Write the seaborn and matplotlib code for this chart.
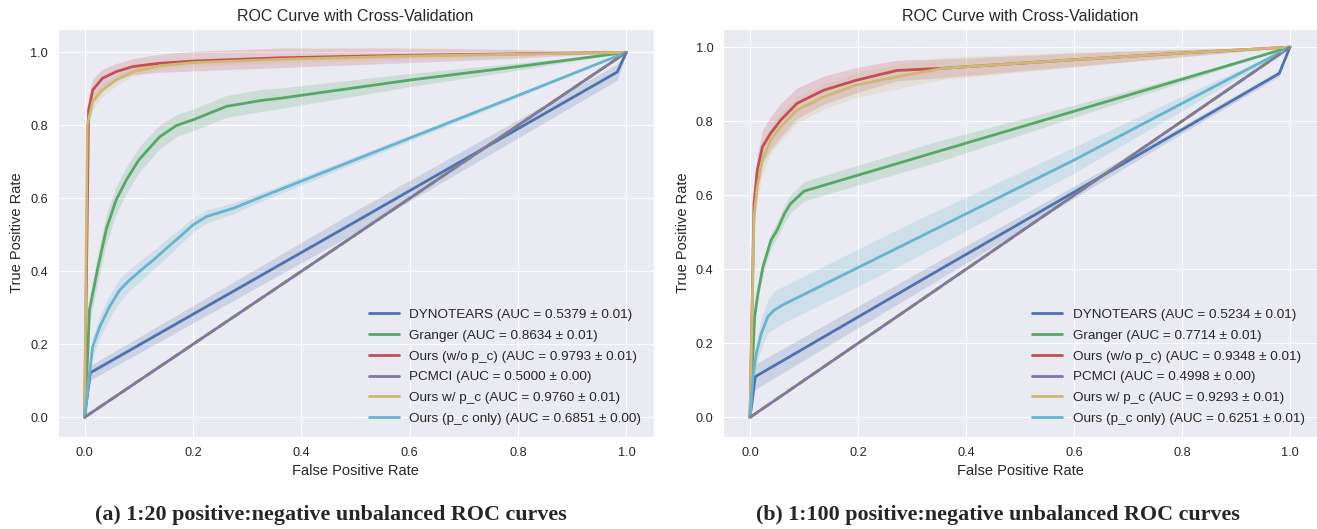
import matplotlib
matplotlib.use("Agg")
import matplotlib.pyplot as plt
import seaborn as sns
import numpy as np

# ---- data (mean TPR and std band at given FPR points) ----
labels = ["DYNOTEARS", "Granger", "Ours (w/o p_c)", "PCMCI", "Ours w/ p_c", "Ours (p_c only)"]

auc_a = ["0.5379 ± 0.01", "0.8634 ± 0.01", "0.9793 ± 0.01", "0.5000 ± 0.00", "0.9760 ± 0.01", "0.6851 ± 0.00"]
auc_b = ["0.5234 ± 0.01", "0.7714 ± 0.01", "0.9348 ± 0.01", "0.4998 ± 0.00", "0.9293 ± 0.01", "0.6251 ± 0.01"]

# panel (a) 1:20
dyn_a_fpr = [0, 0.0105, 0.5, 0.983, 1.0]
dyn_a_tpr = [0, 0.122, 0.536, 0.946, 1.0]
dyn_a_std = [0, 0.02, 0.03, 0.022, 0]

gra_a_fpr = [0, 0.006, 0.009, 0.025, 0.04, 0.058, 0.077, 0.10, 0.138, 0.17, 0.2, 0.262, 0.325, 0.36, 0.6, 0.8, 1.0]
gra_a_tpr = [0, 0.18, 0.295, 0.413, 0.515, 0.595, 0.65, 0.705, 0.768, 0.80, 0.815, 0.852, 0.868, 0.874, 0.924, 0.961, 1.0]
gra_a_std = [0, 0.03, 0.035, 0.04, 0.04, 0.038, 0.036, 0.035, 0.033, 0.03, 0.03, 0.03, 0.03, 0.028, 0.018, 0.01, 0]

red_a_fpr = [0, 0.0074, 0.015, 0.033, 0.058, 0.089, 0.138, 0.2, 0.36, 0.6, 0.8, 1.0]
red_a_tpr = [0, 0.842, 0.897, 0.929, 0.947, 0.961, 0.970, 0.976, 0.985, 0.992, 0.996, 1.0]
red_a_std = [0, 0.035, 0.03, 0.025, 0.022, 0.022, 0.025, 0.027, 0.027, 0.02, 0.012, 0]

pcm_a_fpr = [0, 1.0]
pcm_a_tpr = [0, 1.0]
pcm_a_std = [0, 0]

yel_a_fpr = [0, 0.005, 0.015, 0.033, 0.058, 0.089, 0.138, 0.2, 0.36, 0.6, 0.8, 1.0]
yel_a_tpr = [0, 0.80, 0.865, 0.897, 0.924, 0.947, 0.963, 0.972, 0.981, 0.99, 0.995, 1.0]
yel_a_std = [0, 0.02, 0.022, 0.018, 0.015, 0.012, 0.01, 0.01, 0.01, 0.008, 0.005, 0]

cya_a_fpr = [0, 0.009, 0.015, 0.028, 0.046, 0.065, 0.083, 0.108, 0.127, 0.151, 0.176, 0.2, 0.225, 0.275, 0.32, 0.6, 0.8, 1.0]
cya_a_tpr = [0, 0.12, 0.194, 0.248, 0.303, 0.349, 0.376, 0.408, 0.431, 0.463, 0.495, 0.527, 0.550, 0.573, 0.60, 0.765, 0.882, 1.0]
cya_a_std = [0, 0.02, 0.025, 0.03, 0.032, 0.032, 0.03, 0.028, 0.026, 0.025, 0.022, 0.02, 0.018, 0.015, 0.012, 0.008, 0.005, 0]

# panel (b) 1:100
dyn_b_fpr = [0, 0.0098, 0.357, 0.5, 0.8, 0.98, 1.0]
dyn_b_tpr = [0, 0.11, 0.404, 0.524, 0.777, 0.929, 1.0]
dyn_b_std = [0, 0.034, 0.025, 0.02, 0.01, 0.008, 0]

gra_b_fpr = [0, 0.0086, 0.0147, 0.024, 0.039, 0.05, 0.064, 0.075, 0.1, 0.35, 0.7, 1.0]
gra_b_tpr = [0, 0.272, 0.335, 0.407, 0.479, 0.505, 0.551, 0.577, 0.611, 0.719, 0.870, 1.0]
gra_b_std = [0, 0.015, 0.018, 0.02, 0.02, 0.022, 0.024, 0.025, 0.026, 0.028, 0.012, 0]

red_b_fpr = [0, 0.0074, 0.0135, 0.023, 0.038, 0.057, 0.087, 0.106, 0.137, 0.198, 0.272, 0.358, 0.6, 0.8, 1.0]
red_b_tpr = [0, 0.577, 0.668, 0.731, 0.767, 0.803, 0.848, 0.862, 0.884, 0.911, 0.937, 0.943, 0.966, 0.984, 1.0]
red_b_std = [0, 0.03, 0.04, 0.045, 0.045, 0.045, 0.042, 0.04, 0.038, 0.034, 0.028, 0.025, 0.018, 0.01, 0]

pcm_b_fpr = [0, 1.0]
pcm_b_tpr = [0, 1.0]
pcm_b_std = [0, 0]

yel_b_fpr = [0, 0.0074, 0.0135, 0.023, 0.038, 0.057, 0.087, 0.137, 0.198, 0.272, 0.358, 0.6, 0.8, 1.0]
yel_b_tpr = [0, 0.541, 0.622, 0.695, 0.749, 0.785, 0.830, 0.866, 0.898, 0.920, 0.943, 0.966, 0.984, 1.0]
yel_b_std = [0, 0.03, 0.035, 0.038, 0.038, 0.038, 0.035, 0.033, 0.033, 0.033, 0.03, 0.02, 0.01, 0]

cya_b_fpr = [0, 0.0055, 0.0116, 0.021, 0.033, 0.045, 0.061, 0.3, 0.6, 0.8, 1.0]
cya_b_tpr = [0, 0.11, 0.173, 0.227, 0.272, 0.29, 0.304, 0.477, 0.695, 0.848, 1.0]
cya_b_std = [0, 0.02, 0.03, 0.04, 0.045, 0.05, 0.05, 0.05, 0.035, 0.02, 0]

captions = ["(a) 1:20 positive:negative unbalanced ROC curves",
            "(b) 1:100 positive:negative unbalanced ROC curves"]

panel_a = [(dyn_a_fpr, dyn_a_tpr, dyn_a_std), (gra_a_fpr, gra_a_tpr, gra_a_std),
           (red_a_fpr, red_a_tpr, red_a_std), (pcm_a_fpr, pcm_a_tpr, pcm_a_std),
           (yel_a_fpr, yel_a_tpr, yel_a_std), (cya_a_fpr, cya_a_tpr, cya_a_std)]
panel_b = [(dyn_b_fpr, dyn_b_tpr, dyn_b_std), (gra_b_fpr, gra_b_tpr, gra_b_std),
           (red_b_fpr, red_b_tpr, red_b_std), (pcm_b_fpr, pcm_b_tpr, pcm_b_std),
           (yel_b_fpr, yel_b_tpr, yel_b_std), (cya_b_fpr, cya_b_tpr, cya_b_std)]

sns.set_style("darkgrid")
plt.rcParams['font.family'] = ['Liberation Sans', 'DejaVu Sans']
colors = sns.color_palette(["#4C72B0", "#55A868", "#C44E52", "#8172B2", "#CCB974", "#64B5CD"])

fig = plt.figure(figsize=(13.17, 5.29), dpi=100)
ax_a = fig.add_axes([57.5 / 1317, 92 / 529, 596 / 1317, 408 / 529])
ax_b = fig.add_axes([723 / 1317, 92 / 529, 594 / 1317, 408 / 529])

for ax, panel, aucs, ylim in [(ax_a, panel_a, auc_a, (-0.054, 1.064)),
                              (ax_b, panel_b, auc_b, (-0.053, 1.049))]:
    for (fpr, tpr, std), name, auc, c in zip(panel, labels, aucs, colors):
        fpr = np.array(fpr)
        tpr = np.array(tpr)
        std = np.array(std)
        sns.lineplot(x=fpr, y=tpr, ax=ax, color=c, lw=2, label=f"{name} (AUC = {auc})")
        ax.fill_between(fpr, tpr - std, tpr + std, color=c, alpha=0.2, lw=0)
    ax.plot([0, 1], [0, 1], linestyle='--', color='gray', lw=2)
    ax.set_xlim(-0.05, 1.05)
    ax.set_ylim(*ylim)
    ax.set_xticks([0, 0.2, 0.4, 0.6, 0.8, 1.0])
    ax.set_yticks([0, 0.2, 0.4, 0.6, 0.8, 1.0])
    ax.tick_params(labelsize=9.2)
    ax.set_xlabel("False Positive Rate", fontsize=10.5)
    ax.set_ylabel("True Positive Rate", fontsize=10.5)
    ax.set_title("ROC Curve with Cross-Validation", fontsize=11.5)
    ax.legend(loc="lower right", frameon=False, fontsize=9.7, labelspacing=0.62,
              handlelength=2.2)

fig.text(331 / 1317, 1 - 515 / 529, captions[0], ha="center", va="center",
         family="Liberation Serif", weight="bold", fontsize=15.8)
fig.text(998 / 1317, 1 - 515 / 529, captions[1], ha="center", va="center",
         family="Liberation Serif", weight="bold", fontsize=15.8)

fig.savefig("out.png", dpi=100)
